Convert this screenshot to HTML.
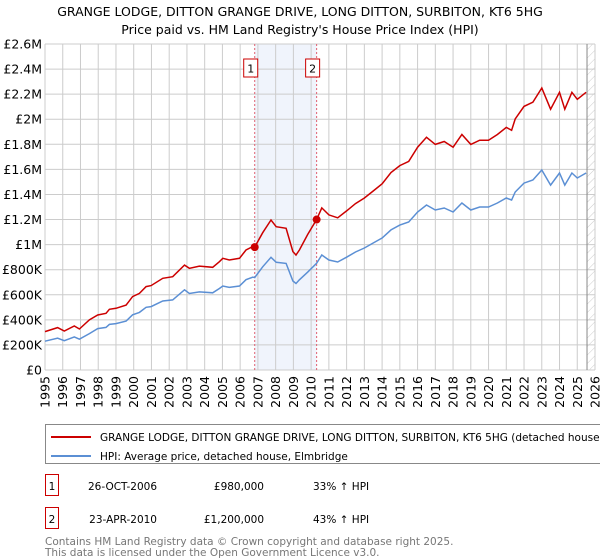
<!DOCTYPE html>
<html><head><meta charset="utf-8"><style>
body{margin:0;background:#fff;font-family:"DejaVu Sans","Liberation Sans",sans-serif;}
#wrap{position:relative;width:600px;height:560px;overflow:hidden;}
</style></head><body>
<div id="wrap">
<svg id="chart" width="600" height="560" xmlns="http://www.w3.org/2000/svg" font-family="DejaVu Sans, Liberation Sans, sans-serif"></svg>
</div>
<script>
const years=[1995,1995.71,1996.09,1996.65,1996.94,1997.5,1997.97,1998.44,1998.63,1999.0,1999.57,1999.94,2000.32,2000.7,2000.98,2001.64,2002.2,2002.86,2003.14,2003.7,2004.45,2004.83,2005.02,2005.39,2005.96,2006.33,2006.71,2006.82,2007.27,2007.74,2008.03,2008.59,2008.97,2009.15,2009.34,2009.8,2010.31,2010.6,2011.0,2011.5,2012.0,2012.5,2013.0,2013.5,2014.0,2014.5,2015.0,2015.5,2016.0,2016.5,2017.0,2017.5,2018.0,2018.5,2019.0,2019.5,2020.0,2020.5,2021.0,2021.3,2021.5,2022.0,2022.5,2023.0,2023.5,2024.0,2024.3,2024.7,2025.0,2025.5];
const priceK=[306,338,311,351,327,400,439,452,484,492,518,585,611,665,673,731,744,837,811,829,819,864,891,877,891,957,984,980,1095,1196,1143,1130,944,917,957,1080,1200,1293,1237,1214,1269,1327,1372,1428,1485,1575,1630,1664,1777,1856,1799,1822,1777,1878,1799,1833,1833,1878,1935,1912,2002,2102,2136,2249,2080,2215,2080,2215,2159,2215];
const hpiK=[230,254,234,264,246,290,330,340,364,370,390,440,459,500,506,550,559,640,610,623,616,650,670,659,670,720,740,737,823,899,859,850,710,690,719,780,851,917,877,861,900,941,973,1013,1053,1117,1156,1180,1260,1316,1276,1292,1260,1332,1276,1300,1300,1332,1372,1356,1420,1491,1515,1595,1475,1571,1475,1571,1531,1571];
const yTicks=[0,200,400,600,800,1000,1200,1400,1600,1800,2000,2200,2400,2600];
const yTickLabels=["£0","£200K","£400K","£600K","£800K","£1M","£1.2M","£1.4M","£1.6M","£1.8M","£2M","£2.2M","£2.4M","£2.6M"];
const xTicks=[1995,1996,1997,1998,1999,2000,2001,2002,2003,2004,2005,2006,2007,2008,2009,2010,2011,2012,2013,2014,2015,2016,2017,2018,2019,2020,2021,2022,2023,2024,2025,2026];
const saleYears=[2006.82,2010.31];
const saleK=[980,1200];
const saleLabels=["1","2"];
const dataEndYear=2025.55;

const NS="http://www.w3.org/2000/svg";
const svg=document.getElementById('chart');
const L=45,R=595,T=44,B=370;
const X=v=>L+(v-1995)/(2026-1995)*(R-L);
const Y=v=>B-v/2600*(B-T);
function el(t,a,p){const e=document.createElementNS(NS,t);for(const k in a)e.setAttribute(k,a[k]);(p||svg).appendChild(e);return e;}

let t1=el('text',{x:300,y:16,'text-anchor':'middle','font-size':12.5,fill:'#000'});t1.textContent="GRANGE LODGE, DITTON GRANGE DRIVE, LONG DITTON, SURBITON, KT6 5HG";


let t2=el('text',{x:300,y:34,'text-anchor':'middle','font-size':12.5,fill:'#000'});t2.textContent="Price paid vs. HM Land Registry's House Price Index (HPI)";



const defs=el('defs',{});
const pat=el('pattern',{id:'hatch',width:6,height:6,patternUnits:'userSpaceOnUse',patternTransform:'rotate(45)'},defs);
el('line',{x1:0,y1:0,x2:0,y2:6,stroke:'#ccc','stroke-width':1},pat);

let sh=el('rect',{x:X(saleYears[0]),y:T,width:X(saleYears[1])-X(saleYears[0]),height:B-T,fill:'#f0f4fc'});


let hz=el('rect',{x:X(dataEndYear),y:T,width:R-X(dataEndYear),height:B-T,fill:'url(#hatch)'});



yTicks.forEach((v,i)=>{
  const g=el('line',{x1:L,x2:R,y1:Y(v),y2:Y(v),stroke:'#ccc','stroke-width':1});
  
  
  const tx=el('text',{x:L-3,y:Y(v)+4.5,'text-anchor':'end','font-size':12.5,fill:'#000'});
  tx.textContent=yTickLabels[i];
  
  
});
xTicks.forEach(v=>{
  const g=el('line',{x1:X(v),x2:X(v),y1:T,y2:B,stroke:'#ccc','stroke-width':1});
  
  
  const tx=el('text',{x:0,y:0,'text-anchor':'end','font-size':12.5,fill:'#000',transform:`translate(${X(v)+4.5},${B+6}) rotate(-90)`});
  tx.textContent=v;
  
  
});
let ed=el('line',{x1:X(dataEndYear),x2:X(dataEndYear),y1:T,y2:B,stroke:'#888','stroke-width':1});



saleYears.forEach((s,i)=>{
  const d=el('line',{x1:X(s),x2:X(s),y1:T,y2:B,stroke:'#e06070','stroke-width':1,'stroke-dasharray':'2,2'});
  
  
  const bx=el('rect',{x:X(s)-11,y:59,width:14,height:18,fill:'#fff',stroke:'#c00','stroke-width':1});
  
  
  const bt=el('text',{x:X(s)-4,y:72.5,'text-anchor':'middle','font-size':11,fill:'#000'});
  bt.textContent=saleLabels[i];
});

function path(vals){return vals.map((v,i)=>(i?'L':'M')+X(years[i]).toFixed(1)+','+Y(v).toFixed(1)).join('');}
let hp=el('path',{d:path(hpiK),fill:'none',stroke:'#5b8fd4','stroke-width':1.5});


let pp=el('path',{d:path(priceK),fill:'none',stroke:'#cc0000','stroke-width':1.5});


saleYears.forEach((s,i)=>{
  const c=el('circle',{cx:X(s),cy:Y(saleK[i]),r:4,fill:'#cc0000'});
  
  
});

let lg=el('rect',{x:45.5,y:424.5,width:600,height:39,fill:'#fff',stroke:'#888','stroke-width':1});


el('line',{x1:51,x2:91,y1:437,y2:437,stroke:'#cc0000','stroke-width':2});
el('line',{x1:51,x2:91,y1:456,y2:456,stroke:'#5b8fd4','stroke-width':2});
let l1=el('text',{x:100,y:441,'font-size':10.5,fill:'#000'});l1.textContent="GRANGE LODGE, DITTON GRANGE DRIVE, LONG DITTON, SURBITON, KT6 5HG (detached house)";


let l2=el('text',{x:100,y:460,'font-size':10.5,fill:'#000'});l2.textContent="HPI: Average price, detached house, Elmbridge";



const rows=[["1","26-OCT-2006","£980,000","33% ↑ HPI",493],["2","23-APR-2010","£1,200,000","43% ↑ HPI",526]];
rows.forEach(r=>{
  const b=el('rect',{x:45.5,y:r[4]-18.5,width:13,height:21,fill:'#fff',stroke:'#c00','stroke-width':1});
  
  
  const a=el('text',{x:52,y:r[4]-3,'text-anchor':'middle','font-size':10.5});a.textContent=r[0];
  const d=el('text',{x:157,y:r[4]-3,'text-anchor':'end','font-size':10.5});d.textContent=r[1];
  
  
  const p=el('text',{x:264,y:r[4]-3,'text-anchor':'end','font-size':10.5});p.textContent=r[2];
  
  
  const q=el('text',{x:313,y:r[4]-3,'font-size':10.5});q.textContent=r[3];
  
  
});
let f1=el('text',{x:45,y:545,'font-size':10.5,fill:'#777'});f1.textContent="Contains HM Land Registry data © Crown copyright and database right 2025.";


let f2=el('text',{x:45,y:556,'font-size':10.5,fill:'#777'});f2.textContent="This data is licensed under the Open Government Licence v3.0.";


</script>
</body></html>
